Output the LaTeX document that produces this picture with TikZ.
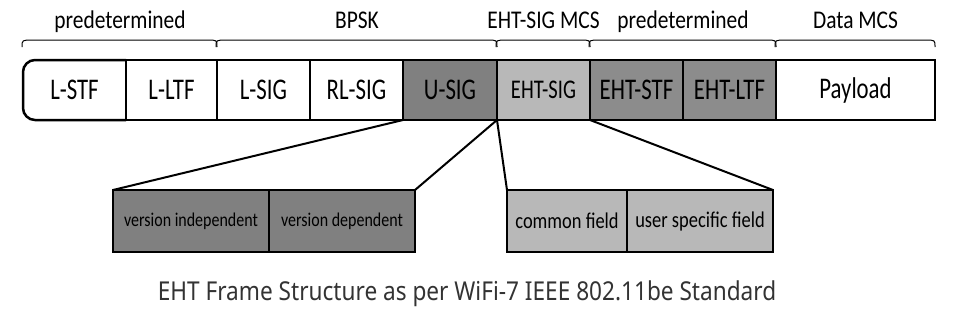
\documentclass[tikz,border=0pt]{standalone}
\usepackage{fontspec}
\usepackage{xcolor}
\usepackage{tikz}
\usetikzlibrary{positioning,calc}
\setmainfont{Carlito}
\newfontfamily\cellfont{Carlito}[FakeStretch=0.76]
\newfontfamily\grpfont{Carlito}[FakeStretch=0.84]
\newfontfamily\subfont{Carlito}[FakeStretch=0.82]
\newfontfamily\capfont{Noto Sans}[FakeStretch=0.87]
\definecolor{usiggray}{gray}{0.50}
\definecolor{sigltgray}{gray}{0.72}
\definecolor{stfgray}{gray}{0.55}
\definecolor{capgray}{gray}{0.2}

\begin{document}
\begin{tikzpicture}[x=1pt, y=-1pt, node distance=0pt, every node/.style={inner sep=0pt, outer sep=0pt}]
\tikzstyle{cell} = [rectangle, minimum height=60pt, text centered, draw=black, line width=2.5pt, font=\cellfont\fontsize{30}{31}\selectfont]
\tikzstyle{subcell} = [rectangle, minimum height=62pt, text centered, draw=black, line width=2.5pt]
\tikzstyle{grplabel} = [anchor=base, font=\grpfont\fontsize{25.5}{26}\selectfont]
\tikzstyle{bracel} = [line width=1pt]
\tikzstyle{zoomline} = [line width=2pt]

\useasboundingbox (0,0) rectangle (955,311);

% PPDU fields
\node (lstf) [cell, draw=none, minimum width=103pt, anchor=north west] at (23,60) {L-STF};
\node (lltf) [cell, minimum width=91pt, right=of lstf] {L-LTF};
\node (lsig) [cell, minimum width=93pt, right=of lltf] {L-SIG};
\node (rlsig) [cell, minimum width=93pt, right=of lsig] {RL-SIG};
\node (usig) [cell, fill=usiggray, minimum width=94pt, right=of rlsig] {U-SIG};
\node (ehtsig) [cell, fill=sigltgray, minimum width=93pt, right=of usig, font=\cellfont\fontsize{27}{28}\selectfont] {EHT-SIG};
\node (ehtstf) [cell, fill=stfgray, minimum width=93pt, right=of ehtsig] {EHT-STF};
\node (ehtltf) [cell, fill=stfgray, minimum width=93pt, right=of ehtstf] {EHT-LTF};
\node (pay) [cell, minimum width=159pt, right=of ehtltf] {Payload};

% rounded left end of the frame
\draw[line width=2.5pt] (lstf.north east) -- ([xshift=12pt]lstf.north west)
  arc[start angle=90, end angle=180, radius=12pt] -- ([yshift=12pt]lstf.south west)
  arc[start angle=180, end angle=270, radius=12pt] -- (lstf.south east);

% modulation groups
\foreach \a/\b/\t in {lstf/lltf/predetermined, lsig/usig/BPSK, ehtsig/ehtsig/EHT-SIG MCS, ehtstf/ehtltf/predetermined, pay/pay/Data MCS} {
  \draw[bracel] ([xshift=-1pt, yshift=13pt]\a.north west) .. controls ([xshift=-1pt, yshift=20pt]\a.north west) .. ([xshift=10pt, yshift=20pt]\a.north west)
    -- ([xshift=-10pt, yshift=20pt]\b.north east) .. controls ([yshift=20pt]\b.north east) .. ([yshift=13pt]\b.north east);
  \node (lab-\a) [grplabel] at ($(\a.north west)!0.5!(\b.north east)+(0,-32)$) {\t};
}

% U-SIG and EHT-SIG contents
\node (vind) [subcell, fill=usiggray, minimum width=156pt, anchor=north west, font=\subfont\fontsize{19.5}{20}\selectfont] at (113,190) {version independent};
\node (vdep) [subcell, fill=usiggray, minimum width=146pt, right=of vind, font=\subfont\fontsize{19.5}{20}\selectfont] {version dependent};
\node (comf) [subcell, fill=sigltgray, minimum width=120pt, anchor=north west, font=\subfont\fontsize{22.5}{23}\selectfont] at (507,190) {common field};
\node (usrf) [subcell, fill=sigltgray, minimum width=146pt, right=of comf, font=\subfont\fontsize{22.5}{23}\selectfont] {user specific field};

\draw[zoomline] (usig.south west) -- (vind.north west);
\draw[zoomline] (usig.south east) -- (vdep.north east);
\draw[zoomline] (ehtsig.south west) -- (comf.north west);
\draw[zoomline] (ehtsig.south east) -- (usrf.north east);

\node (caption) [anchor=base, text=capgray, font=\capfont\fontsize{26}{27}\selectfont] at (467,300) {EHT Frame Structure as per WiFi-7 IEEE 802.11be Standard};
\end{tikzpicture}
\end{document}
